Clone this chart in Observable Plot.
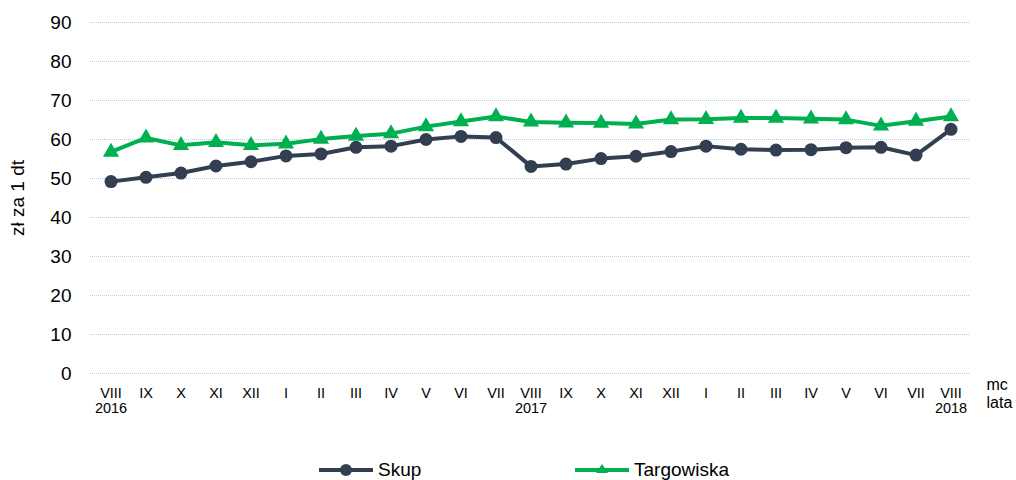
<!DOCTYPE html>
<html>
<head>
<meta charset="utf-8">
<script src="https://cdn.jsdelivr.net/npm/d3@7"></script>
<script src="https://cdn.jsdelivr.net/npm/@observablehq/plot@0.6"></script>
<style>
  html, body { margin: 0; padding: 0; background: #fff; }
  body { width: 1016px; height: 480px; overflow: hidden; font-family: "Liberation Sans", Arial, sans-serif; }
  #legend { position: relative; height: 40px; width: 1016px; font-size: 19px; color: #000; }
  .item { position: absolute; top: 19px; display: flex; align-items: center; }
  .item svg { margin-right: 5px; }
</style>
</head>
<body>
<div id="chart"></div>
<div id="legend"></div>
<script>
const months = ["VIII","IX","X","XI","XII","I","II","III","IV","V","VI","VII","VIII","IX","X","XI","XII","I","II","III","IV","V","VI","VII","VIII"];
const years = ["2016", "", "", "", "", "", "", "", "", "", "", "", "2017", "", "", "", "", "", "", "", "", "", "", "", "2018"];
const skup = [49.2, 50.3, 51.4, 53.2, 54.3, 55.8, 56.3, 58.0, 58.3, 60.0, 60.8, 60.5, 53.1, 53.7, 55.1, 55.7, 56.9, 58.3, 57.5, 57.3, 57.4, 57.9, 58.0, 56.0, 62.6];
const targowiska = [56.8, 60.4, 58.5, 59.3, 58.5, 58.9, 60.1, 60.9, 61.5, 63.3, 64.6, 65.9, 64.5, 64.3, 64.2, 64.0, 65.1, 65.2, 65.5, 65.5, 65.3, 65.1, 63.5, 64.7, 65.9];
const seriesNames = ["Skup", "Targowiska"];
const seriesColors = ["#333F50", "#00B050"];
const yTicks = [0, 10, 20, 30, 40, 50, 60, 70, 80, 90];

const idx = months.map((_, i) => i);
const data = [];
idx.forEach(i => {
  data.push({i, series: "Skup", value: skup[i]});
  data.push({i, series: "Targowiska", value: targowiska[i]});
});
const sk = data.filter(d => d.series === "Skup");
const tg = data.filter(d => d.series === "Targowiska");

const font = "Liberation Sans, Arial, sans-serif";
const chart = Plot.plot({
  width: 1016,
  height: 440,
  marginLeft: 90,
  marginRight: 46,
  marginTop: 22,
  marginBottom: 67,
  style: {fontFamily: font, color: "#000", background: "#fff"},
  x: {type: "band", domain: idx, padding: 0},
  y: {domain: [0, 90]},
  marks: [
    Plot.gridY(yTicks, {stroke: "#B4CBEE", strokeOpacity: 1, strokeWidth: 1, strokeDasharray: "1,1"}),
    Plot.axisY(yTicks, {tickSize: 0, tickPadding: 19, fontSize: 19, label: "zł za 1 dt", labelAnchor: "center", labelArrow: "none", labelOffset: 80}),
    Plot.axisX(idx, {tickSize: 0, tickPadding: 14, fontSize: 14.5, tickFormat: i => months[i], label: null}),
    Plot.axisX([0, 12, 24], {tickSize: 0, tickPadding: 29, fontSize: 14.5, tickFormat: i => years[i], label: null}),
    Plot.text(["mc"], {frameAnchor: "bottom-right", dx: 16, dy: 16, textAnchor: "start", fontSize: 16}),
    Plot.text(["lata"], {frameAnchor: "bottom-right", dx: 16, dy: 34, textAnchor: "start", fontSize: 16}),
    Plot.line(sk, {x: "i", y: "value", stroke: seriesColors[0], strokeWidth: 4}),
    Plot.dot(sk, {x: "i", y: "value", fill: seriesColors[0], r: 6.5, symbol: "circle"}),
    Plot.line(tg, {x: "i", y: "value", stroke: seriesColors[1], strokeWidth: 4}),
    Plot.dot(tg, {x: "i", y: "value", fill: seriesColors[1], r: 6, symbol: "triangle"})
  ]
});
document.getElementById("chart").appendChild(chart);

const legend = document.getElementById("legend");
const lefts = [319, 575];
seriesNames.forEach((name, k) => {
  const it = document.createElement("div");
  it.className = "item";
  it.style.left = lefts[k] + "px";
  const marker = k === 0
    ? `<circle cx="27" cy="10" r="6" fill="${seriesColors[k]}"/>`
    : `<path d="M27,4 L33,13 L21,13 Z" fill="${seriesColors[k]}"/>`;
  it.innerHTML = `<svg width="54" height="20"><line x1="0" y1="10" x2="54" y2="10" stroke="${seriesColors[k]}" stroke-width="4" stroke-linecap="round"/>${marker}</svg><span>${name}</span>`;
  legend.appendChild(it);
});
</script>
</body>
</html>
